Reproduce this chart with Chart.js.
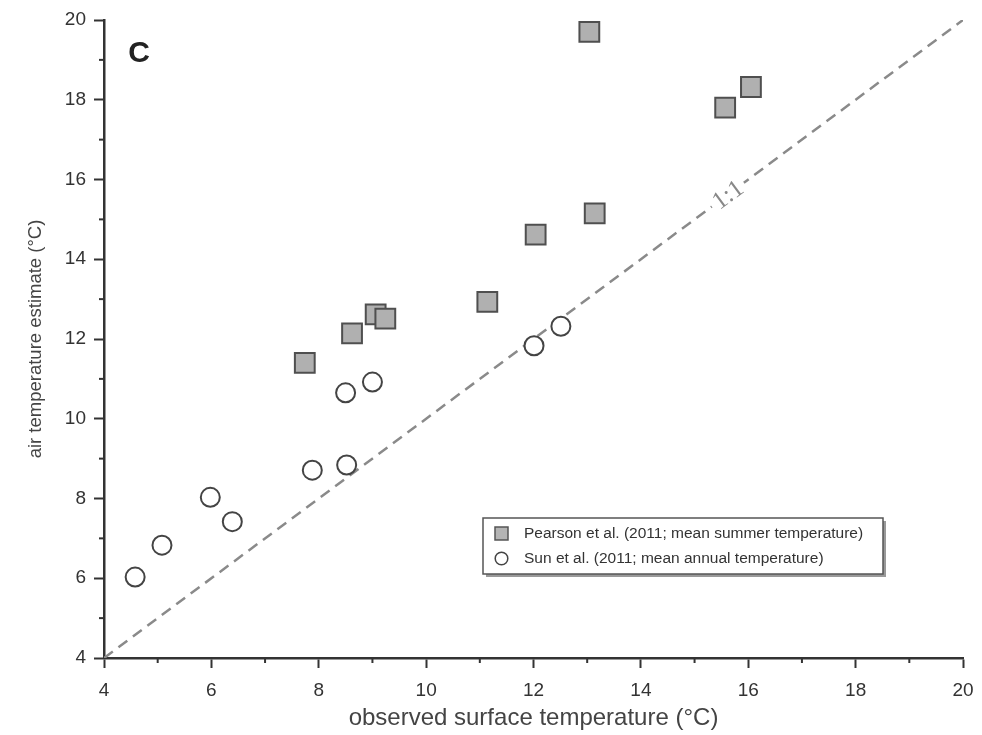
<!DOCTYPE html>
<html>
<head>
<meta charset="utf-8">
<script src="https://cdn.jsdelivr.net/npm/chart.js@4.4.0/dist/chart.umd.min.js"></script>
<style>
html, body { margin: 0; padding: 0; background: #fff; }
#wrap { width: 982px; height: 735px; position: relative; }
</style>
</head>
<body>
<div id="wrap"><canvas id="tempChart"></canvas></div>
<script>
// Pearson et al. (2011; mean summer temperature)
const pearsonX = [7.74, 8.62, 9.06, 9.24, 11.14, 12.04, 13.14, 13.04, 15.57, 16.05];
const pearsonY = [11.40, 12.14, 12.62, 12.51, 12.93, 14.62, 15.15, 19.70, 17.80, 18.32];

// Sun et al. (2011; mean annual temperature)
const sunX = [4.58, 5.08, 5.98, 6.39, 7.88, 8.52, 8.50, 9.00, 12.01, 12.51];
const sunY = [6.03, 6.83, 8.03, 7.42, 8.71, 8.84, 10.65, 10.92, 11.83, 12.32];

// 1:1 reference line
const lineX = [4, 20];
const lineY = [4, 20];

const xTicks = [4, 6, 8, 10, 12, 14, 16, 18, 20];
const yTicks = [4, 6, 8, 10, 12, 14, 16, 18, 20];

const pearsonLabel = 'Pearson et al. (2011; mean summer temperature)';
const sunLabel = 'Sun et al. (2011; mean annual temperature)';

const FONT = '"Liberation Sans", Arial, sans-serif';
const AXIS_COLOR = '#333';

function toPoints(xs, ys) {
    return xs.map((x, i) => ({ x: x, y: ys[i] }));
}

// minor ticks, panel letter, 1:1 label and the boxed legend
const extras = {
    id: 'extras',
    afterDraw(chart) {
        const ctx = chart.ctx;
        const xs = chart.scales.x;
        const ys = chart.scales.y;
        ctx.save();

        // minor ticks
        ctx.strokeStyle = AXIS_COLOR;
        ctx.lineWidth = 2;
        for (let v = 5; v < 20; v += 2) {
            const px = xs.getPixelForValue(v);
            ctx.beginPath(); ctx.moveTo(px, xs.top); ctx.lineTo(px, xs.top + 5); ctx.stroke();
            const py = ys.getPixelForValue(v);
            ctx.beginPath(); ctx.moveTo(ys.right, py); ctx.lineTo(ys.right - 5, py); ctx.stroke();
        }

        // panel letter
        ctx.fillStyle = '#222';
        ctx.font = 'bold 30px ' + FONT;
        ctx.textAlign = 'center';
        ctx.textBaseline = 'middle';
        ctx.fillText('C', 139, 54);

        // 1:1 label on the dashed line
        const v = 15.62;
        const lx = xs.getPixelForValue(v);
        const ly = ys.getPixelForValue(v);
        const ang = Math.atan2(ys.getPixelForValue(20) - ys.getPixelForValue(4),
                               xs.getPixelForValue(20) - xs.getPixelForValue(4));
        ctx.translate(lx, ly);
        ctx.rotate(ang);
        ctx.font = '25px "Liberation Serif", "DejaVu Serif", serif';
        const tw = ctx.measureText('1:1').width;
        ctx.fillStyle = '#fff';
        ctx.fillRect(-tw / 2 - 4, -11, tw + 8, 22);
        ctx.fillStyle = '#888';
        ctx.fillText('1:1', 0, 1);
        ctx.setTransform(1, 0, 0, 1, 0, 0);

        // legend box
        const bx = 483, by = 518, bw = 400, bh = 56;
        ctx.fillStyle = '#999';
        ctx.fillRect(bx + 3, by + 3, bw, bh);
        ctx.fillStyle = '#fff';
        ctx.fillRect(bx, by, bw, bh);
        ctx.strokeStyle = '#555';
        ctx.lineWidth = 1.5;
        ctx.strokeRect(bx, by, bw, bh);

        // legend markers
        ctx.fillStyle = '#b4b4b4';
        ctx.strokeStyle = '#555';
        ctx.lineWidth = 1.5;
        ctx.fillRect(495, 527, 13, 13);
        ctx.strokeRect(495, 527, 13, 13);
        ctx.fillStyle = '#fff';
        ctx.strokeStyle = '#444';
        ctx.beginPath();
        ctx.arc(501.5, 558.5, 6.3, 0, Math.PI * 2);
        ctx.fill();
        ctx.stroke();

        // legend text
        ctx.fillStyle = '#333';
        ctx.font = '15.5px ' + FONT;
        ctx.textAlign = 'left';
        ctx.textBaseline = 'middle';
        ctx.fillText(pearsonLabel, 524, 534);
        ctx.fillText(sunLabel, 524, 559);

        ctx.restore();
    }
};

const ctx = document.getElementById('tempChart').getContext('2d');
const tempChart = new Chart(ctx, {
    type: 'scatter',
    data: {
        datasets: [{
            label: pearsonLabel,
            data: toPoints(pearsonX, pearsonY),
            pointStyle: 'rect',
            pointRadius: 14,
            pointBackgroundColor: '#b0b0b0',
            pointBorderColor: '#4f4f4f',
            pointBorderWidth: 2,
            order: 1
        }, {
            label: sunLabel,
            data: toPoints(sunX, sunY),
            pointStyle: 'circle',
            pointRadius: 9.5,
            pointBackgroundColor: '#fff',
            pointBorderColor: '#444',
            pointBorderWidth: 2,
            order: 2
        }, {
            type: 'line',
            label: '1:1',
            data: toPoints(lineX, lineY),
            borderColor: '#8a8a8a',
            borderWidth: 2.5,
            borderDash: [11, 7],
            pointRadius: 0,
            fill: false,
            order: 3
        }]
    },
    options: {
        responsive: true,
        maintainAspectRatio: false,
        animation: false,
        layout: { padding: { top: 20, right: 19, left: 0, bottom: 0 } },
        plugins: {
            legend: { display: false },
            tooltip: { enabled: false }
        },
        scales: {
            x: {
                type: 'linear',
                min: 4,
                max: 20,
                afterFit: (scale) => { scale.height = 77; scale.paddingLeft = 0; scale.paddingRight = 0; },
                afterBuildTicks: (scale) => { scale.ticks = xTicks.map(v => ({ value: v })); },
                ticks: { color: AXIS_COLOR, font: { size: 19, family: FONT }, padding: 11, autoSkip: false, maxRotation: 0 },
                grid: { display: true, drawOnChartArea: false, drawTicks: true, tickLength: 10, tickColor: AXIS_COLOR, tickWidth: 2 },
                border: { display: true, color: AXIS_COLOR, width: 2.5 },
                title: {
                    display: true,
                    text: 'observed surface temperature (°C)',
                    color: '#444',
                    font: { size: 24, family: FONT },
                    padding: { top: 0, bottom: 2 }
                }
            },
            y: {
                type: 'linear',
                min: 4,
                max: 20,
                afterFit: (scale) => { scale.width = 104; scale.paddingTop = 0; scale.paddingBottom = 0; },
                afterBuildTicks: (scale) => { scale.ticks = yTicks.map(v => ({ value: v })); },
                ticks: { color: AXIS_COLOR, font: { size: 19, family: FONT }, padding: 8, autoSkip: false },
                grid: { display: true, drawOnChartArea: false, drawTicks: true, tickLength: 10, tickColor: AXIS_COLOR, tickWidth: 2 },
                border: { display: true, color: AXIS_COLOR, width: 2.5 },
                title: {
                    display: true,
                    text: 'air temperature estimate (°C)',
                    color: '#444',
                    font: { size: 18.5, family: FONT },
                    padding: { top: 25, bottom: 0 }
                }
            }
        }
    },
    plugins: [extras]
});
</script>
</body>
</html>
